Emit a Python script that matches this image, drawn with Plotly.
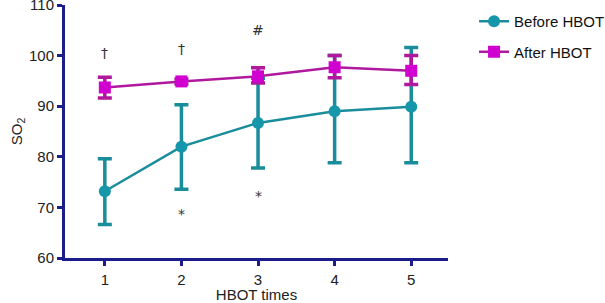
import plotly.graph_objects as go

times = [1, 2, 3, 4, 5]
before_mean = [73.2, 82.0, 86.7, 89.0, 89.9]
before_upper = [79.6, 90.3, 95.5, 100.0, 101.6]
before_lower = [66.6, 73.6, 77.8, 78.8, 78.8]
after_mean = [93.7, 94.9, 95.9, 97.7, 97.0]
after_upper = [95.7, 95.4, 97.6, 100.0, 100.0]
after_lower = [91.6, 94.4, 94.6, 95.6, 94.3]

marks = ["†", "†", "#", "*", "*"]
mark_x = [1, 2, 3, 2, 3]
mark_y = [100.6, 101.4, 105.0, 68.6, 72.3]

teal = "#1a8d9c"
teal_m = "#1596aa"
mag_line = "#b0189e"
mag_m = "#d000d0"
navy = "#1c1c8c"

fig = go.Figure()
fig.add_trace(go.Scatter(
    x=times, y=before_mean, mode="lines+markers", name="Before HBOT",
    legendgroup="a",
    line=dict(color=teal, width=2.5),
    marker=dict(symbol="circle", size=12, color=teal_m),
    error_y=dict(type="data", symmetric=False,
                 array=[u - m for u, m in zip(before_upper, before_mean)],
                 arrayminus=[m - l for l, m in zip(before_lower, before_mean)],
                 color=teal, thickness=3.5, width=7),
))
fig.add_trace(go.Scatter(
    x=times, y=after_mean, mode="lines+markers", name="After HBOT",
    legendgroup="b",
    line=dict(color=mag_line, width=2.5),
    marker=dict(symbol="square", size=12, color=mag_m),
    error_y=dict(type="data", symmetric=False,
                 array=[u - m for u, m in zip(after_upper, after_mean)],
                 arrayminus=[m - l for l, m in zip(after_lower, after_mean)],
                 color=mag_line, thickness=3.5, width=7),
))

for t, xx, yy in zip(marks, mark_x, mark_y):
    fig.add_annotation(x=xx, y=yy, text=t, showarrow=False,
                       font=dict(size=14, color="#333333", family="DejaVu Sans"))

fig.update_layout(
    width=605, height=303,
    margin=dict(l=65, r=157, t=5, b=45, autoexpand=False),
    paper_bgcolor="white", plot_bgcolor="white",
    font=dict(family="Liberation Sans, Arial", size=15, color="#222222"),
    showlegend=True,
    legend=dict(x=1.068, y=1.0, xanchor="left", yanchor="top",
                font=dict(size=15, color="#111111"), tracegroupgap=8,
                itemwidth=30, bgcolor="rgba(0,0,0,0)"),
    xaxis=dict(range=[0.48, 5.48], tickvals=times, ticktext=[str(t) for t in times],
               automargin=False,
               showgrid=False, zeroline=False, showline=True, linecolor=navy, linewidth=3,
               ticks="outside", ticklen=5, tickwidth=2.5, tickcolor=navy,
               tickfont=dict(size=15), ticklabelstandoff=1,
               title=dict(text="HBOT times", font=dict(size=15), standoff=1)),
    yaxis=dict(range=[60, 110], tickvals=[60, 70, 80, 90, 100, 110],
               automargin=False, ticklabeloverflow="allow",
               showgrid=False, zeroline=False, showline=True, linecolor=navy, linewidth=3,
               ticks="outside", ticklen=5, tickwidth=2.5, tickcolor=navy,
               tickfont=dict(size=15),
               title=dict(text="SO<sub>2</sub>", font=dict(size=15), standoff=3)),
)

fig.write_html("out.html", config={"displayModeBar": False},
               post_script="document.body.style.margin='0';")
